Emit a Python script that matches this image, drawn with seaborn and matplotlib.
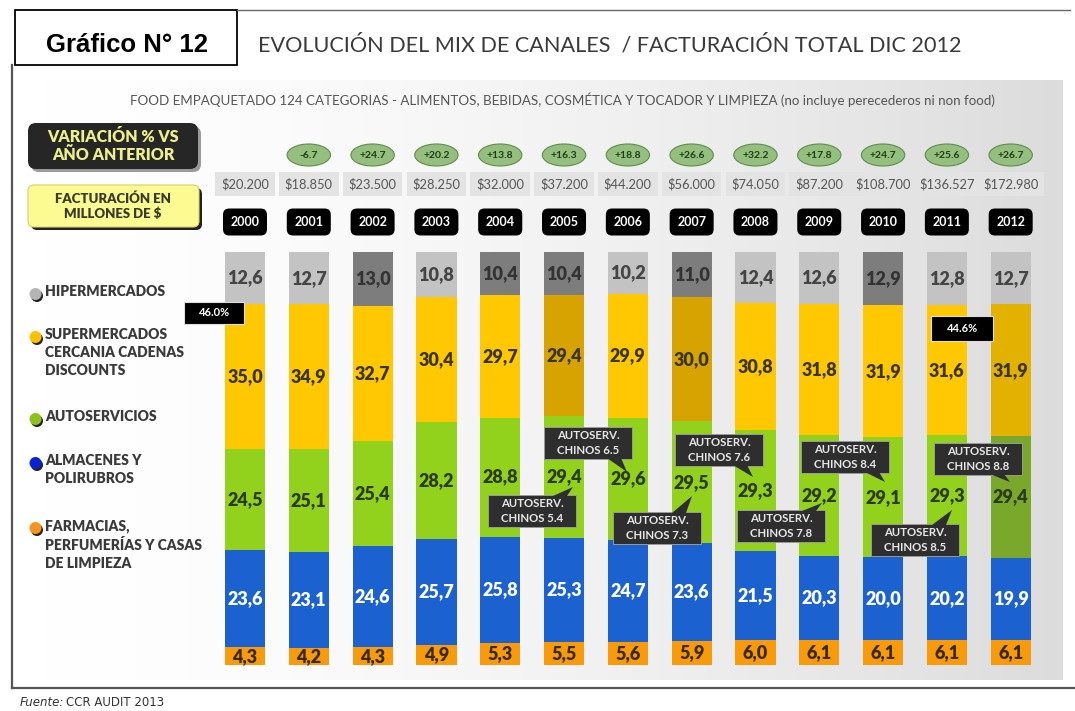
import numpy as np
import pandas as pd
import matplotlib
matplotlib.use("Agg")
import matplotlib.pyplot as plt
import matplotlib.transforms as mtransforms
from matplotlib.patches import FancyBboxPatch, Ellipse, Rectangle, Circle, Polygon
import seaborn as sns

# Datos (participación % por canal)
years = ['2000', '2001', '2002', '2003', '2004', '2005', '2006',
         '2007', '2008', '2009', '2010', '2011', '2012']
hipermercados = [12.6, 12.7, 13.0, 10.8, 10.4, 10.4, 10.2, 11.0, 12.4, 12.6, 12.9, 12.8, 12.7]
supermercados = [35.0, 34.9, 32.7, 30.4, 29.7, 29.4, 29.9, 30.0, 30.8, 31.8, 31.9, 31.6, 31.9]
autoservicios = [24.5, 25.1, 25.4, 28.2, 28.8, 29.4, 29.6, 29.5, 29.3, 29.2, 29.1, 29.3, 29.4]
almacenes = [23.6, 23.1, 24.6, 25.7, 25.8, 25.3, 24.7, 23.6, 21.5, 20.3, 20.0, 20.2, 19.9]
farmacias = [4.3, 4.2, 4.3, 4.9, 5.3, 5.5, 5.6, 5.9, 6.0, 6.1, 6.1, 6.1, 6.1]

# Facturación en millones de $ y variación % vs año anterior (2001-2012)
facturacion = [20200, 18850, 23500, 28250, 32000, 37200, 44200,
               56000, 74050, 87200, 108700, 136527, 172980]
variacion = [-6.7, 24.7, 20.2, 13.8, 16.3, 18.8, 26.6, 32.2, 17.8, 24.7, 25.6, 26.7]

# Autoservicios chinos (2005-2012)
chinos = [5.4, 6.5, 7.3, 7.6, 7.8, 8.4, 8.5, 8.8]

legend_labels = ['HIPERMERCADOS', 'SUPERMERCADOS\nCERCANIA CADENAS\nDISCOUNTS',
                 'AUTOSERVICIOS', 'ALMACENES Y\nPOLIRUBROS',
                 'FARMACIAS,\nPERFUMERÍAS Y CASAS\nDE LIMPIEZA']

# Colores
GRAY, GRAY_D = '#c3c3c3', '#7d7d7d'
YEL, YEL_D, YEL_M = '#ffc800', '#d6a300', '#e3b200'
GRN, GRN_D = '#92d11c', '#79a82a'
BLUE = '#1b62d0'
ORG = '#f79a0c'
hiper_col = [GRAY_D if y in ('2002', '2004', '2005', '2007', '2010') else GRAY for y in years]
super_col = [YEL_D if y in ('2005', '2007') else (YEL_M if y == '2012' else YEL) for y in years]
auto_col = [GRN_D if y == '2012' else GRN for y in years]
alm_col = [BLUE] * len(years)
farm_col = [ORG] * len(years)

plt.rcParams['font.family'] = ['Lato', 'DejaVu Sans']

W, H = 1075, 711
fig = plt.figure(figsize=(W / 100, H / 100), dpi=100)


def px_rect(x0, y0, x1, y1):
    return [x0 / W, 1 - y1 / H, (x1 - x0) / W, (y1 - y0) / H]


# fondo
bg = fig.add_axes([0, 0, 1, 1], zorder=0)
bg.set_xlim(0, W)
bg.set_ylim(H, 0)
bg.axis('off')
gx = np.linspace(0, 1, 300)
grad = np.tile(gx ** 1.6, (2, 1))
bg.imshow(grad, extent=(12, 1063, 680, 80), aspect='auto',
          cmap=matplotlib.colors.LinearSegmentedColormap.from_list('g', ['#ffffff', '#dcdcdc']),
          vmin=0, vmax=1)

# barras
ax = fig.add_axes(px_rect(200, 252, 1063, 665), zorder=1)
ax.patch.set_alpha(0)
df = pd.DataFrame({'year': years, 'hiper': hipermercados, 'super': supermercados,
                   'auto': autoservicios, 'alm': almacenes, 'farm': farmacias})
layers = [
    (['hiper', 'super', 'auto', 'alm', 'farm'], hiper_col),
    (['super', 'auto', 'alm', 'farm'], super_col),
    (['auto', 'alm', 'farm'], auto_col),
    (['alm', 'farm'], alm_col),
    (['farm'], farm_col),
]
for cols, colors in layers:
    df['h'] = df[cols].sum(axis=1)
    sns.barplot(data=df, x='year', y='h', hue='year', palette=dict(zip(years, colors)),
                width=0.63, saturation=1, legend=False, linewidth=0, ax=ax)
ax.set_xlim(-0.705, 12.82)
ax.set_ylim(0, 100)
ax.axis('off')

# etiquetas de valores
segs = [(farmacias, ['#3a2a05'] * 13), (almacenes, ['white'] * 13),
        (autoservicios, ['#2c3a10'] * 13), (supermercados, ['#3a3520'] * 13),
        (hipermercados, ['#333333' if c == GRAY_D else '#454545' for c in hiper_col])]
bottom = np.zeros(len(years))
for vals, tcols in segs:
    for i, v in enumerate(vals):
        ax.text(i, bottom[i] + v / 2, f"{v:.1f}".replace('.', ','), ha='center', va='center',
                fontsize=13, fontweight='heavy', color=tcols[i])
    bottom += np.array(vals)

# capa de decoración en pixeles
fg = fig.add_axes([0, 0, 1, 1], zorder=2)
fg.patch.set_alpha(0)
fg.set_xlim(0, W)
fg.set_ylim(H, 0)
fg.axis('off')
bt = mtransforms.blended_transform_factory(ax.transData, fg.transData)

# marco
fg.plot([12, 12], [65, 688], color='#555555', lw=1.6)
fg.plot([12, 1075], [688, 688], color='#555555', lw=1.6)
fg.plot([237, 1070], [10, 10], color='#666666', lw=1.0)
fg.add_patch(Rectangle((15, 10), 222, 55, fc='white', ec='black', lw=1.3))
fg.text(127, 45, 'Gráfico N° 12', family=['Liberation Sans', 'DejaVu Sans'], fontsize=18.5,
        fontweight='bold', ha='center', va='center', color='black')
fg.text(258, 45, 'EVOLUCIÓN DEL MIX DE CANALES  / FACTURACIÓN TOTAL DIC 2012',
        fontsize=15.6, ha='left', va='center', color='#3a3a3a')
fg.text(562, 100, 'FOOD EMPAQUETADO 124 CATEGORIAS - ALIMENTOS, BEBIDAS, COSMÉTICA Y TOCADOR Y '
        'LIMPIEZA (no incluye perecederos ni non food)', fontsize=9.6, ha='center', va='center',
        color='#555555')

# cajas izquierda
fg.add_patch(FancyBboxPatch((31, 126), 170, 46, boxstyle='round,pad=0,rounding_size=8',
                            fc='#9a9a9a', ec='none'))
fg.add_patch(FancyBboxPatch((28, 123), 170, 46, boxstyle='round,pad=0,rounding_size=8',
                            fc='#262626', ec='none'))
fg.text(113, 146, 'VARIACIÓN % VS\nAÑO ANTERIOR', ha='center', va='center', fontsize=11.5,
        fontweight='heavy', color='#eef08a', linespacing=1.15)
fg.add_patch(FancyBboxPatch((31, 188), 171, 42, boxstyle='round,pad=0,rounding_size=6',
                            fc='#222222', ec='none'))
fg.add_patch(FancyBboxPatch((28, 185), 171, 42, boxstyle='round,pad=0,rounding_size=6',
                            fc='#fcfb92', ec='#d8d070', lw=0.8))
fg.text(113, 206, 'FACTURACIÓN EN\nMILLONES DE $', ha='center', va='center', fontsize=9.5,
        fontweight='heavy', color='#3a3a2a', linespacing=1.2)

# años, facturación, variación
for i, y in enumerate(years):
    ax.text(i, 222, y, transform=bt, ha='center', va='center', fontsize=9, fontweight='bold',
            color='white', bbox=dict(boxstyle='round,pad=0.6,rounding_size=0.5', fc='black', ec='none'))
    ax.text(i, 184, '$' + f"{facturacion[i]:,}".replace(',', '.'), transform=bt, ha='center',
            va='center', fontsize=9.3, color='#555555',
            bbox=dict(boxstyle='square,pad=0.45', fc='#e3e3e3', ec='none'))
for i, v in enumerate(variacion, start=1):
    ax.add_patch(Ellipse((i, 155), 0.68, 22, transform=bt, fc='#94bf7f', ec='#5f8c4c', lw=0.8,
                         clip_on=False))
    ax.text(i, 155, f"{v:+.1f}", transform=bt, ha='center', va='center', fontsize=7.5,
            fontweight='bold', color='#1f3d14')

# leyenda
leg_cols = ['#b5b5b5', '#ffc000', '#8cc21e', '#0a22d6', '#f7941d']
leg_y = [294, 337, 419, 463, 528]
for lab, c, y in zip(legend_labels, leg_cols, leg_y):
    fg.add_patch(Circle((37, y + 2), 6, fc='#222222', ec='none'))
    fg.add_patch(Circle((35.5, y), 6, fc=c, ec='none'))
    fg.text(45, y - 9, lab, ha='left', va='top', fontsize=10, fontweight='heavy',
            color='#3a3a3a', linespacing=1.45)

# porcentajes destacados
for txt, (cx, cy, w, h) in [('46.0%', (214, 313, 60, 22)), ('44.6%', (962, 328, 62, 25))]:
    fg.add_patch(Rectangle((cx - w / 2, cy - h / 2), w, h, fc='black', ec='#dddddd', lw=0.8))
    fg.text(cx, cy, txt, ha='center', va='center', fontsize=8, fontweight='bold', color='white')

# autoservicios chinos (recuadros con puntero)
call_pos = [((532, 511), (573, 487)), ((588, 443), (627, 472)), ((657, 528), (692, 496)),
            ((719, 450), (753, 477)), ((781, 526), (822, 503)), ((845, 457), (885, 482)),
            ((915, 540), (952, 510)), ((978, 459), (1010, 482))]
BW, BH = 88, 32
for v, ((cx, cy), (tx, ty)) in zip(chinos, call_pos):
    fg.add_patch(Rectangle((cx - BW / 2, cy - BH / 2), BW, BH, fc='#2e2e2e', ec='#9a9a9a', lw=0.7))
    edge = cy + BH / 2 - 1 if ty > cy else cy - BH / 2 + 1
    x2 = min(tx - 6, cx + BW / 2 - 4)
    fg.add_patch(Polygon([(x2 - 14, edge), (x2, edge), (tx, ty)], closed=True,
                         fc='#2e2e2e', ec='none'))
    fg.text(cx, cy, f"AUTOSERV.\nCHINOS {v:.1f}", ha='center', va='center', fontsize=8.2,
            fontweight='bold', color='#e8e8e8', linespacing=1.35)

# fuente
fg.text(20, 702, 'Fuente:', ha='left', va='center', fontsize=8.5, style='italic', color='#333333',
        family=['DejaVu Sans'])
fg.text(66, 702, 'CCR AUDIT 2013', ha='left', va='center', fontsize=8.5, color='#333333',
        family=['DejaVu Sans'])

fig.savefig('out.png', dpi=100)
